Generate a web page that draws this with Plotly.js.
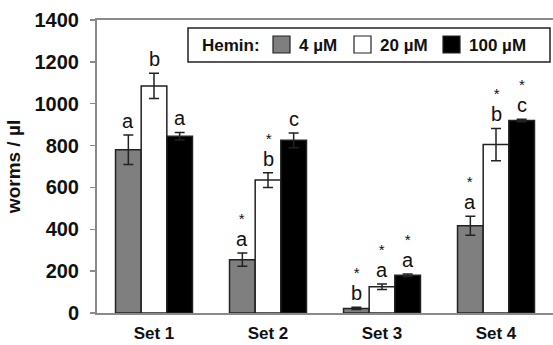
<!DOCTYPE html>
<html>
<head>
<meta charset="utf-8">
<script src="https://cdn.plot.ly/plotly-3.0.1.min.js"></script>
<style>html,body{margin:0;padding:0;background:#fff;}#chart{width:553px;height:345px;}</style>
</head>
<body>
<div id="chart"></div>
<script>
// ---- data ----
const categories = ['Set 1', 'Set 2', 'Set 3', 'Set 4'];
const seriesNames = ['4 \u00B5M', '20 \u00B5M', '100 \u00B5M'];
const values4 = [780, 255, 22, 417];
const values20 = [1085, 635, 125, 805];
const values100 = [845, 825, 180, 920];
const err4 = [70, 32, 5, 45];
const err20 = [60, 35, 13, 77];
const err100 = [18, 35, 6, 6];
const letters4 = ['a', 'a', 'b', 'a'];
const letters20 = ['b', 'b', 'a', 'b'];
const letters100 = ['a', 'c', 'a', 'c'];
const stars4 = [false, true, true, true];
const stars20 = [false, true, true, true];
const stars100 = [false, false, true, true];
const yTicks = [0, 200, 400, 600, 800, 1000, 1200, 1400];

// ---- styles ----
const fills = ['#7f7f7f', '#ffffff', '#000000'];
const outline = '#222222';
const axisGray = '#8a8a8a';
const bargap = 0.325;

const values = [values4, values20, values100];
const errs = [err4, err20, err100];
const letters = [letters4, letters20, letters100];
const stars = [stars4, stars20, stars100];

const traces = values.map((v, i) => ({
  type: 'bar',
  name: seriesNames[i],
  x: categories,
  y: v,
  marker: {color: fills[i], line: {color: outline, width: 1.5}},
  error_y: {type: 'data', array: errs[i], visible: true, color: '#222', thickness: 1.5, width: 5},
  showlegend: false
}));

// plot area geometry (pixels)
const W = 553, H = 345;
const margin = {l: 97, r: 0, t: 20, b: 32};
const pw = W - margin.l - margin.r, ph = H - margin.t - margin.b;
const px = x => (x - margin.l) / pw;
const py = y => (H - margin.b - y) / ph;

const annotations = [];
const slot = (1 - bargap) / 3;
values.forEach((v, i) => {
  v.forEach((val, j) => {
    const xpos = j + (i - 1) * slot;
    const top = val + errs[i][j];
    const letter = "<span style='font-size:20px'>" + letters[i][j] + "</span>";
    const txt = stars[i][j] ? "<span style='font-size:15px'>*</span><br>" + letter : letter;
    annotations.push({
      x: xpos, y: top, xref: 'x', yref: 'y', text: txt, showarrow: false,
      yanchor: 'bottom', yshift: 2, borderpad: 0,
      font: {family: 'Liberation Sans, Arial, sans-serif', size: 17, color: '#111'}
    });
  });
});

// custom legend (box, swatches, labels)
const legFont = {family: 'Liberation Sans, Arial, sans-serif', size: 17, color: '#111'};
const shapes = [
  {type: 'rect', xref: 'paper', yref: 'paper', x0: px(188), x1: px(550), y0: py(62), y1: py(28),
   line: {color: '#222', width: 1.5}, fillcolor: '#fff', layer: 'above'}
];
annotations.push({xref: 'paper', yref: 'paper', x: px(200), y: py(45), xanchor: 'left', yanchor: 'middle',
  text: '<b>Hemin:</b>', showarrow: false, font: legFont});
const swatchX = [273, 354, 443];
const labelX = [297, 378, 467];
seriesNames.forEach((n, i) => {
  shapes.push({type: 'rect', xref: 'paper', yref: 'paper', x0: px(swatchX[i]), x1: px(swatchX[i] + 17),
    y0: py(53), y1: py(36), fillcolor: fills[i], line: {color: outline, width: 1.2}, layer: 'above'});
  annotations.push({xref: 'paper', yref: 'paper', x: px(labelX[i]), y: py(45), xanchor: 'left', yanchor: 'middle',
    text: '<b>' + n + '</b>', showarrow: false, font: legFont});
});

const layout = {
  width: W, height: H,
  margin: margin,
  paper_bgcolor: '#fff', plot_bgcolor: '#fff',
  barmode: 'group', bargap: bargap, bargroupgap: 0,
  font: {family: 'Liberation Sans, Arial, sans-serif', color: '#111'},
  xaxis: {
    type: 'category', range: [-0.5, 3.5], showline: true, mirror: true, linecolor: axisGray, linewidth: 2,
    ticks: '', showgrid: false, zeroline: false, ticklabelstandoff: 4,
    tickfont: {family: 'Liberation Sans, Arial, sans-serif', size: 17, color: '#111', weight: 'bold'}
  },
  yaxis: {
    range: [0, 1400], tickvals: yTicks, ticktext: yTicks.map(String), showline: true, linecolor: axisGray, linewidth: 2,
    ticks: 'outside', ticklen: 5, tickcolor: axisGray, tickwidth: 1.5, showgrid: false, zeroline: false,
    ticklabelstandoff: 7,
    tickfont: {family: 'Liberation Sans, Arial, sans-serif', size: 20, color: '#111', weight: 'bold'},
    title: {text: 'worms / \u00B5l', standoff: 9,
      font: {family: 'Liberation Sans, Arial, sans-serif', size: 19, color: '#111', weight: 'bold'}}
  },
  annotations: annotations,
  shapes: shapes,
  showlegend: false
};

Plotly.newPlot('chart', traces, layout, {displayModeBar: false, staticPlot: true});
</script>
</body>
</html>
